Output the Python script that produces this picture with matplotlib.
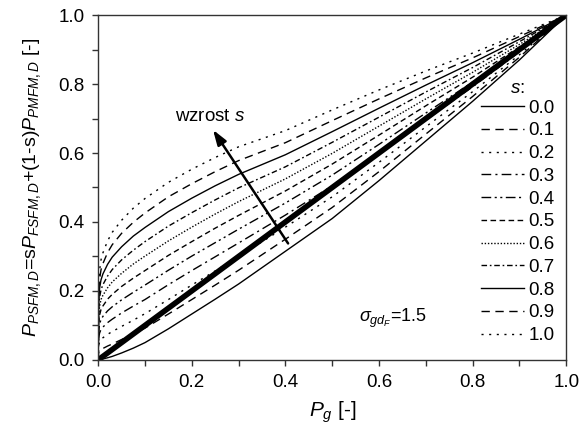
import matplotlib
matplotlib.use("Agg")
import matplotlib.pyplot as plt
from matplotlib.ticker import MultipleLocator

plt.rcParams['font.family'] = ['Liberation Sans', 'DejaVu Sans']
plt.rcParams['mathtext.fontset'] = 'custom'
plt.rcParams['mathtext.rm'] = 'Liberation Sans'
plt.rcParams['mathtext.it'] = 'Liberation Sans:italic'
plt.rcParams['mathtext.sf'] = 'Liberation Sans'

pg = [0, 0.001, 0.003, 0.006, 0.01, 0.02, 0.03, 0.05, 0.075, 0.1, 0.15, 0.2, 0.25,
      0.3, 0.4, 0.5, 0.6, 0.7, 0.8, 0.9, 1.0]
s_labels = ['0.0', '0.1', '0.2', '0.3', '0.4', '0.5', '0.6', '0.7', '0.8', '0.9', '1.0']
curve_00 = [0, 0.0002, 0.0006, 0.0012, 0.0025, 0.006, 0.01, 0.02, 0.034, 0.05, 0.09, 0.133, 0.176,
            0.22, 0.315, 0.41, 0.52, 0.635, 0.75, 0.87, 1.0]
curve_01 = [0, 0.021, 0.027, 0.030, 0.033, 0.040, 0.046, 0.059, 0.075, 0.092, 0.133, 0.175, 0.217,
            0.260, 0.350, 0.442, 0.546, 0.655, 0.764, 0.878, 1.0]
curve_02 = [0, 0.042, 0.052, 0.059, 0.064, 0.074, 0.082, 0.097, 0.115, 0.134, 0.175, 0.217, 0.258,
            0.300, 0.385, 0.473, 0.573, 0.676, 0.778, 0.885, 1.0]
curve_03 = [0, 0.063, 0.078, 0.088, 0.095, 0.108, 0.118, 0.136, 0.156, 0.175, 0.218, 0.259, 0.299,
            0.339, 0.420, 0.505, 0.599, 0.696, 0.792, 0.893, 1.0]
curve_04 = [0, 0.084, 0.104, 0.117, 0.126, 0.142, 0.154, 0.174, 0.196, 0.217, 0.260, 0.301, 0.340,
            0.379, 0.455, 0.536, 0.625, 0.716, 0.806, 0.900, 1.0]
curve_05 = [0, 0.105, 0.130, 0.146, 0.156, 0.176, 0.190, 0.213, 0.237, 0.259, 0.303, 0.343, 0.382,
            0.419, 0.490, 0.568, 0.652, 0.737, 0.820, 0.908, 1.0]
curve_06 = [0, 0.126, 0.156, 0.175, 0.187, 0.209, 0.226, 0.251, 0.278, 0.301, 0.345, 0.385, 0.423,
            0.459, 0.525, 0.599, 0.678, 0.757, 0.834, 0.915, 1.0]
curve_07 = [0, 0.147, 0.182, 0.203, 0.218, 0.243, 0.262, 0.290, 0.318, 0.343, 0.388, 0.427, 0.464,
            0.499, 0.560, 0.631, 0.704, 0.777, 0.848, 0.923, 1.0]
curve_08 = [0, 0.168, 0.208, 0.232, 0.249, 0.277, 0.298, 0.328, 0.359, 0.384, 0.430, 0.469, 0.505,
            0.538, 0.595, 0.662, 0.730, 0.797, 0.862, 0.930, 1.0]
curve_09 = [0, 0.189, 0.234, 0.261, 0.279, 0.311, 0.334, 0.367, 0.399, 0.426, 0.473, 0.511, 0.546,
            0.578, 0.630, 0.694, 0.757, 0.818, 0.876, 0.938, 1.0]
curve_10 = [0, 0.21, 0.26, 0.29, 0.31, 0.345, 0.37, 0.405, 0.44, 0.468, 0.515, 0.553, 0.587,
            0.618, 0.665, 0.725, 0.783, 0.838, 0.89, 0.945, 1.0]
curves = [curve_00, curve_01, curve_02, curve_03, curve_04, curve_05,
          curve_06, curve_07, curve_08, curve_09, curve_10]
diag = [0.0, 1.0]

styles = ['-', (0, (6, 4)), (0, (1.5, 4)), (0, (7, 3, 1.5, 3)), (0, (7, 2.5, 1.5, 2.5, 1.5, 2.5)),
          (0, (4, 2.5)), (0, (1, 1.3)), (0, (4, 2, 1.2, 2)), '-', (0, (6, 4)), (0, (1.5, 4))]

fig = plt.figure(figsize=(5.88, 4.32), dpi=100)
ax = fig.add_axes([0.167, 0.167, 0.796, 0.798])

for c, ls, lab in zip(curves, styles, s_labels):
    ax.plot(pg, c, color='black', lw=1.0, ls=ls, label=lab)
ax.plot(diag, diag, color='black', lw=4.0, solid_capstyle='butt')

ax.set_xlim(0, 1)
ax.set_ylim(0, 1)
ax.xaxis.set_major_locator(MultipleLocator(0.2))
ax.xaxis.set_minor_locator(MultipleLocator(0.1))
ax.yaxis.set_major_locator(MultipleLocator(0.2))
ax.yaxis.set_minor_locator(MultipleLocator(0.1))
ax.xaxis.set_major_formatter(plt.FormatStrFormatter('%.1f'))
ax.yaxis.set_major_formatter(plt.FormatStrFormatter('%.1f'))
ax.tick_params(which='major', direction='out', length=4, width=1, labelsize=13.5, pad=6,
               color='#333333')
ax.tick_params(which='minor', direction='out', length=4, width=1, color='#333333')
for sp in ax.spines.values():
    sp.set_color('#333333')
    sp.set_linewidth(1.0)

ax.set_xlabel(r'$P_g$ [-]', fontsize=15, labelpad=6)
ax.set_ylabel(r'$P_{PSFM,D}$=s$P_{FSFM,D}$+(1-s)$P_{PMFM,D}$ [-]', fontsize=14, labelpad=11)

ax.annotate('', xy=(0.242, 0.674), xytext=(0.409, 0.331),
            arrowprops=dict(arrowstyle='-|>,head_length=0.9,head_width=0.3', color='black', lw=1.8))
ax.text(0.24, 0.705, r'wzrost $s$', fontsize=13.5, ha='center', va='center')
ax.text(0.558, 0.12, r'$\sigma_{gd_F}$=1.5', fontsize=13, ha='left', va='center')

leg = ax.legend(loc='upper right', bbox_to_anchor=(1.0, 0.845), frameon=False, fontsize=13.5,
                title=r'$s$:', title_fontsize=13.5, handlelength=2.3, handletextpad=0.27,
                labelspacing=0.3, borderaxespad=0.2)
leg._legend_box.sep = 2

fig.savefig('out.png', dpi=100)
